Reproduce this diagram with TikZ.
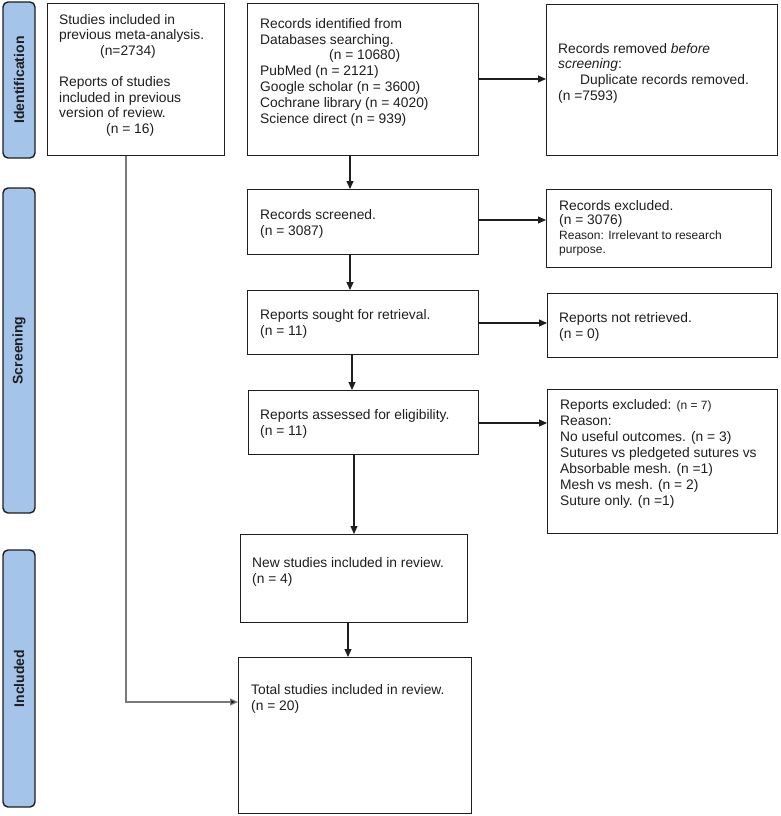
\documentclass[tikz,border=0pt]{standalone}
\usepackage{fontspec}
\setmainfont{Liberation Sans}
\usetikzlibrary{arrows.meta}
\definecolor{barblue}{HTML}{A4C4EA}
\definecolor{ink}{HTML}{1E1E1E}
\definecolor{grayline}{HTML}{7A7A7A}
\begin{document}
\begin{tikzpicture}[x=1pt,y=-1pt,
  box/.style={draw=ink,line width=1.4pt,fill=white,inner sep=0pt,anchor=north west},
  bar/.style={draw=ink,line width=1.4pt,fill=barblue,rounded corners=5pt,inner sep=0pt,
    rotate=90,font=\fontsize{14}{16}\selectfont\bfseries,text=ink},
  txt/.style={inner sep=0pt,anchor=north west,align=left,text=ink},
  f155/.style={font=\fontsize{13.8}{15.5}\selectfont},
  f158/.style={font=\fontsize{13.8}{15.8}\selectfont},
  f160/.style={font=\fontsize{13.8}{16}\selectfont},
  f165/.style={font=\fontsize{13.8}{16.5}\selectfont},
  f145/.style={font=\fontsize{13.8}{14.5}\selectfont},
  arr/.style={draw=ink,line width=1.1pt,-{Triangle[length=8pt,width=7pt]}},
  grayarr/.style={draw=grayline,line width=1.1pt,-{Triangle[length=8pt,width=7pt,fill=ink]}}
]
\useasboundingbox (0,0) rectangle (780,816);
\newcommand{\fl}{\rule{0pt}{11pt}}
\newcommand{\sm}{\fontsize{12}{14}\selectfont}

% side bars
\node[bar,minimum width=156pt,minimum height=32pt] (S1) at (19,80) {Identification};
\node[bar,minimum width=325pt,minimum height=32pt] (S2) at (19,350.5) {Screening};
\node[bar,minimum width=257pt,minimum height=32pt] (S3) at (19,678.5) {Included};

% boxes
\node[box,minimum width=177pt,minimum height=152pt] (A) at (47,3) {};
\node[box,minimum width=231pt,minimum height=152pt] (B) at (247,3) {};
\node[box,minimum width=231pt,minimum height=151pt] (C) at (546,4) {};
\node[box,minimum width=231pt,minimum height=65pt] (D) at (247,189) {};
\node[box,minimum width=231pt,minimum height=64pt] (E) at (247,290) {};
\node[box,minimum width=230pt,minimum height=64pt] (F) at (248,390) {};
\node[box,minimum width=225pt,minimum height=78pt] (G) at (546,189) {};
\node[box,minimum width=230pt,minimum height=64pt] (H) at (547,293) {};
\node[box,minimum width=230pt,minimum height=144pt] (I) at (547,389) {};
\node[box,minimum width=227pt,minimum height=88pt] (J) at (240,534) {};
\node[box,minimum width=233pt,minimum height=156pt] (K) at (238,657) {};

% texts
\node[txt,f155] (At) at (59,13) {\fl Studies included in\\previous meta-analysis.\\\hspace{41pt}(n=2734)\\[16pt]Reports of studies\\included in previous\\version of review.\\\hspace{47pt}(n = 16)};
\node[txt,f158] (Bt) at (260,17) {\fl Records identified from\\Databases searching.\\\hspace{69pt}(n = 10680)\\PubMed (n = 2121)\\Google scholar (n = 3600)\\Cochrane library (n = 4020)\\Science direct (n = 939)};
\node[txt,f158] (Ct) at (558,42) {\fl Records removed \textit{before}\\\textit{screening}:\\\hspace{22pt}Duplicate records removed.\\(n =7593)};
\node[txt,f165] (Dt) at (260,208) {\fl Records screened.\\(n = 3087)};
\node[txt,f165] (Et) at (260,308) {\fl Reports sought for retrieval.\\(n = 11)};
\node[txt,f165] (Ft) at (260,408) {\fl Reports assessed for eligibility.\\(n = 11)};
\node[txt,f145] (Gt) at (559,199) {\fl Records excluded.\\(n = 3076)\\{\sm Reason: Irrelevant to research}\\{\sm purpose.}};
\node[txt,f160] (Ht) at (559,311) {\fl Reports not retrieved.\\(n = 0)};
\node[txt,f160] (It) at (560,398) {\fl Reports excluded: {\sm(n = 7)}\\Reason:\\No useful outcomes. (n = 3)\\Sutures vs pledgeted sutures vs\\Absorbable mesh. (n =1)\\Mesh vs mesh. (n = 2)\\Suture only. (n =1)};
\node[txt,f160] (Jt) at (252,556) {\fl New studies included in review.\\(n = 4)};
\node[txt,f160] (Kt) at (251,683) {\fl Total studies included in review.\\(n = 20)};

% helper coordinates
\coordinate (xBD) at (350,0);
\coordinate (xDE) at (350,0);
\coordinate (xEF) at (352,0);
\coordinate (xFJ) at (354,0);
\coordinate (xJK) at (348,0);
\coordinate (xAK) at (126,0);
\coordinate (yBC) at (0,79);
\coordinate (yDG) at (0,220);
\coordinate (yEH) at (0,323);
\coordinate (yFI) at (0,423);
\coordinate (yAK) at (0,702);

% connectors
\draw[arr] (B.east |- yBC) -- (C.west |- yBC);
\draw[arr] (B.south -| xBD) -- (D.north -| xBD);
\draw[arr] (D.east |- yDG) -- (G.west |- yDG);
\draw[arr] (D.south -| xDE) -- (E.north -| xDE);
\draw[arr] (E.east |- yEH) -- (H.west |- yEH);
\draw[arr] (E.south -| xEF) -- (F.north -| xEF);
\draw[arr] (F.east |- yFI) -- (I.west |- yFI);
\draw[arr] (F.south -| xFJ) -- (J.north -| xFJ);
\draw[arr] (J.south -| xJK) -- (K.north -| xJK);
\draw[grayarr] (A.south -| xAK) |- (K.west |- yAK);
\end{tikzpicture}
\end{document}
